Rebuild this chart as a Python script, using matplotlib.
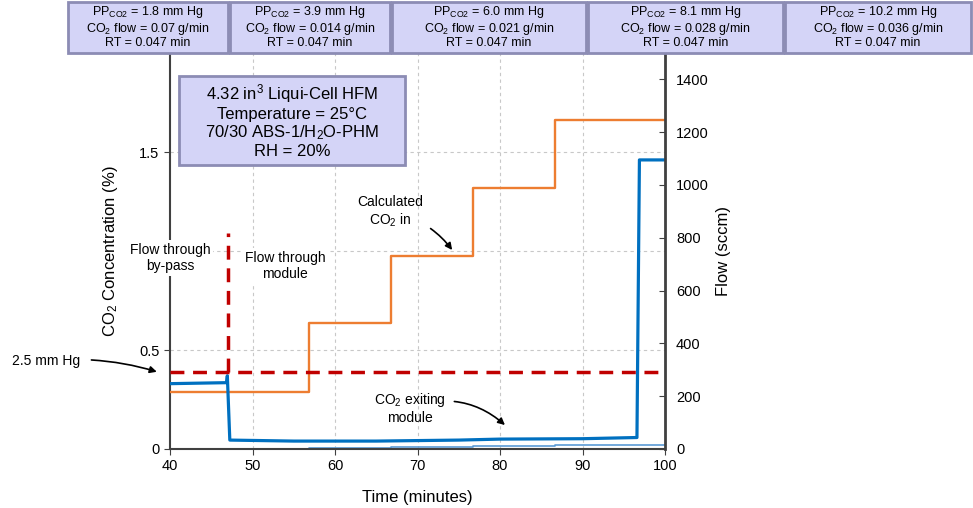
import matplotlib
matplotlib.use("Agg")
import matplotlib.pyplot as plt
from matplotlib.patches import Rectangle

plt.rcParams['font.family'] = ['Liberation Sans', 'DejaVu Sans']
plt.rcParams['mathtext.fontset'] = 'custom'
plt.rcParams['mathtext.rm'] = 'Liberation Sans'
plt.rcParams['mathtext.it'] = 'Liberation Sans:italic'

# calculated CO2 in (step levels, %)
orange_edges = [40, 56.8, 66.8, 76.7, 86.7, 100]
orange_vals = [0.29, 0.636, 0.975, 1.32, 1.66, 1.66]

# CO2 exiting module (%)
blue_t = [40, 46.85, 46.95, 47.25, 55, 65, 75, 80, 90, 96.6, 96.9, 100]
blue_v = [0.33, 0.335, 0.37, 0.045, 0.04, 0.04, 0.045, 0.05, 0.052, 0.058, 1.46, 1.46]

# thin line near zero
thin_edges = [40, 56.8, 66.8, 76.7, 86.7, 100]
thin_vals = [0.002, 0.006, 0.01, 0.016, 0.022, 0.022]

# 2.5 mm Hg limit and switch from by-pass to module
limit = 0.39
switch_t = 47.0
switch_top = 1.09

top_boxes = [
    ("1.8", "0.07"),
    ("3.9", "0.014"),
    ("6.0", "0.021"),
    ("8.1", "0.028"),
    ("10.2", "0.036"),
]
box_px = [(68, 228), (230, 390), (392, 586), (588, 783), (785, 971)]

W, H = 973, 508
fig = plt.figure(figsize=(W / 100, H / 100), dpi=100)
ax = fig.add_axes([170 / W, 1 - 449 / H, 495 / W, 396 / H])
ax2 = ax.twinx()

grid = dict(color='#c8c8c8', lw=0.8, ls=(0, (3, 3)), zorder=0)
for gx in [50, 60, 70, 80, 90]:
    ax.axvline(gx, **grid)
for gy in [0.5, 1.0, 1.5]:
    ax.axhline(gy, **grid)

ax.plot(thin_edges, thin_vals, drawstyle='steps-post', color='#5B9BD5', lw=1.2, zorder=2)
ax.plot(orange_edges, orange_vals, drawstyle='steps-post', color='#ED7D31', lw=1.7, zorder=3)
ax.plot(blue_t, blue_v, color='#0070C0', lw=2.3, zorder=4)
ax.plot([40, 100], [limit, limit], color='#C00000', lw=2.5, ls=(0, (4, 2.5)), zorder=5)
ax.plot([switch_t, switch_t], [limit, switch_top], color='#C00000', lw=2.5, ls=(0, (4, 2.5)), zorder=5)

ax.set_xlim(40, 100)
ax.set_ylim(0, 2)
ax.set_xticks([40, 50, 60, 70, 80, 90, 100])
ax.set_yticks([0, 0.5, 1, 1.5, 2])
# "1" and "2" sit under the text and the boxes in the original
ax.set_yticklabels(['0', '0.5', '', '1.5', ''])
ax2.set_ylim(0, 1500)
ax2.set_yticks(range(0, 1401, 200))

for s in ax.spines.values():
    s.set_color('#404040')
    s.set_linewidth(1.5)
ax.spines['top'].set_visible(False)
ax.spines['right'].set_visible(False)
for side in ['top', 'left', 'bottom']:
    ax2.spines[side].set_visible(False)
ax2.spines['right'].set_color('#404040')
ax2.spines['right'].set_linewidth(2)
ax.tick_params(labelsize=10.5, color='#404040', length=4)
ax2.tick_params(labelsize=10.5, color='#404040', length=4, direction='in', pad=8)

ax.set_xlabel('Time (minutes)', fontsize=12, labelpad=12)
ax.set_ylabel('CO$_2$ Concentration (%)', fontsize=12, labelpad=14)
ax2.set_ylabel('Flow (sccm)', fontsize=12, labelpad=5)

# annotations
ax.text(40, 0.965, 'Flow through\nby-pass', ha='center', va='center', fontsize=10,
        zorder=10, bbox=dict(fc='white', ec='none', pad=2))
ax.text(53.94, 0.924, 'Flow through\nmodule', ha='center', va='center', fontsize=10,
        zorder=10, bbox=dict(fc='white', ec='none', pad=2))
ax.annotate('2.5 mm Hg', xy=(38.4, limit), xytext=(25.0, 0.445), ha='center', va='center',
            fontsize=10, annotation_clip=False,
            arrowprops=dict(arrowstyle='-|>', color='black', lw=1.2,
                            connectionstyle='arc3,rad=-0.1', shrinkA=6, shrinkB=0))
ax.annotate('Calculated\nCO$_2$ in', xy=(74.2, 1.005), xytext=(66.7, 1.197), ha='center',
            va='center', fontsize=10,
            arrowprops=dict(arrowstyle='-|>', color='black', lw=1.2,
                            connectionstyle='arc3,rad=-0.2', shrinkA=4, shrinkB=0))
ax.annotate('CO$_2$ exiting\nmodule', xy=(80.6, 0.121), xytext=(69.1, 0.207), ha='center',
            va='center', fontsize=10,
            arrowprops=dict(arrowstyle='-|>', color='black', lw=1.2,
                            connectionstyle='arc3,rad=-0.3', shrinkA=4, shrinkB=0))

box_fc = '#d4d4f7'
box_ec = '#8c8cb4'

# conditions box
x0, x1, y0, y1 = 179, 405, 76, 165
fig.patches.append(Rectangle((x0 / W, 1 - y1 / H), (x1 - x0) / W, (y1 - y0) / H,
                             transform=fig.transFigure, fc=box_fc, ec=box_ec, lw=2))
fig.text((x0 + x1) / 2 / W, 1 - (y0 + y1) / 2 / H,
         '4.32 in$^3$ Liqui-Cell HFM\nTemperature = 25°C\n70/30 ABS-1/H$_2$O-PHM\nRH = 20%',
         ha='center', va='center', fontsize=12, linespacing=1.15)

# step condition boxes
for (pp, flow), (bx0, bx1) in zip(top_boxes, box_px):
    fig.patches.append(Rectangle((bx0 / W, 1 - 53 / H), (bx1 - bx0) / W, 51 / H,
                                 transform=fig.transFigure, fc=box_fc, ec=box_ec, lw=2))
    fig.text((bx0 + bx1) / 2 / W, 1 - 27 / H,
             'PP$_{\\mathregular{CO2}}$ = %s mm Hg\nCO$_2$ flow = %s g/min\nRT = 0.047 min' % (pp, flow),
             ha='center', va='center', fontsize=9, linespacing=1.05)

fig.savefig('out.png', dpi=100)
